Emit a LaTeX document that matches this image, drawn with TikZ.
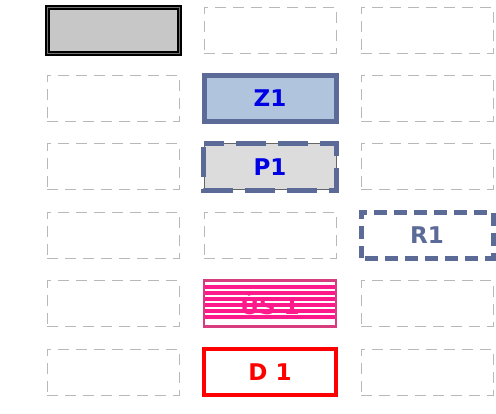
\documentclass[tikz,border=0pt]{standalone}
\usepackage{fontspec}
\setsansfont{DejaVu Sans}

\definecolor{slate}{HTML}{5B6A96}
\definecolor{steel}{HTML}{B0C4DE}
\definecolor{lightgr}{HTML}{DCDCDC}
\definecolor{hotpink}{HTML}{FF1A8C}
\definecolor{rosebd}{HTML}{D63C7E}

\tikzset{
  box/.style={minimum width=132pt, minimum height=46pt, inner sep=0pt,
    font=\sffamily\bfseries\fontsize{23}{26}\selectfont},
  slot/.style={box, draw=black!28, dash pattern=on 11pt off 7pt, line width=1pt},
  start/.style={box, draw=black, double=black!55, double distance=1pt,
    line width=2pt, fill=black!22},
  zone/.style={box, draw=slate, line width=5pt, fill=steel, text=blue!90!black},
  place/.style={box, draw=black!60, line width=1pt, fill=lightgr, text=blue!90!black},
  route/.style={box, draw=slate, line width=5pt, dash pattern=on 13pt off 7pt,
    dash phase=-4pt, fill=white, text=slate},
  stripes/.style={box, draw=rosebd, line width=2.5pt, text=hotpink,
    path picture={
      \foreach \k in {0,...,5}
        \draw[hotpink, line width=3.2pt]
          ([yshift=-6.4pt-\k*6pt]path picture bounding box.north west) --
          ([yshift=-6.4pt-\k*6pt]path picture bounding box.north east);
    }},
  depot/.style={box, draw=red, line width=4pt, fill=white, text=red}
}

\begin{document}
\begin{tikzpicture}[x=1pt, y=-1pt]
	\useasboundingbox (0, 0) rectangle (496, 413);

	% empty slots of the grid
	\foreach \c/\r in {1/2, 1/3, 1/4, 1/5, 1/6, 2/1, 2/4, 3/1, 3/2, 3/3, 3/5, 3/6}
		\node [slot] (slot-\c-\r) at ({113 + 157*(\c-1)}, {30 + 68.4*(\r-1)}) {};

	% filled slots
	\node [start] (start) at (113, 30) {};
	\node [zone] (z1) at (270, 98.4) {Z1};
	\node [place] (p1) at (270, 166.8) {P1};
	\draw [slate, line width=5pt, dash pattern=on 30pt off 12pt, dash phase=-4pt]
		(p1.north west) rectangle (p1.south east);
	\node [route] (r1) at (427, 235.2) {R1};
	\node [stripes] (us1) at (270, 303.6) {ÚS 1};
	\node [depot] (d1) at (270, 372) {D 1};
\end{tikzpicture}
\end{document}
